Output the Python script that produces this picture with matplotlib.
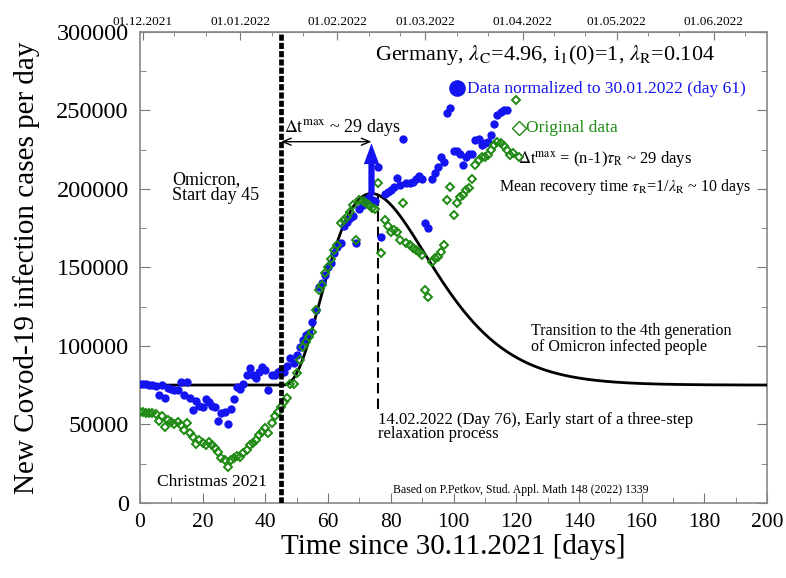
import numpy as np
import matplotlib
matplotlib.use("Agg")
from matplotlib import pyplot as plt
from matplotlib.ticker import MultipleLocator, FixedLocator

plt.rcParams['font.family'] = ['Liberation Serif', 'DejaVu Serif']
plt.rcParams['mathtext.fontset'] = 'stix'

# data normalized to 30.01.2022 (blue), in thousands of cases per day
blue_days = list(range(0, 118))
blue_k = [76, 76, 75.5, 75, 75, 74.5, 69, 75, 67, 73,
          72.5, 72, 72, 77, 69, 77, 67, 59, 65, 62,
          61, 66, 64, 62, 61, 52, 57, 58, 50, 60,
          66, 74, 72.6, 76, 81.5, 86, 81.5, 79.6, 83.4, 86.6,
          84.7, 72, 81.5, 81.5, 83.4, 84.7, 83.4, 87, 92, 89,
          94, 99, 104, 107, 108, 115, 123, 137.6, 140, 145,
          150, 153, 159, 163, 165.6, 176, 179, 181.5, 183, 165.6,
          187, 190, 193, 195, 193, 192, 214, 169, 197, 198,
          199, 201, 207, 202.5, 232, 204, 204, 204.5, 206, 208,
          206, 178, 175, 206, 210, 214, 220, 217, 248, 251.6,
          224, 224, 222, 215, 220, 222, 222, 231, 232, 228,
          229, 230, 234, 241, 247, 249, 250, 250]

# original data (green), in thousands of cases per day
green_days = list(range(0, 122))
green_k = [58, 58, 57.5, 57, 57, 56.5, 52, 55, 48, 53,
           51.6, 50, 51.6, 49.7, 46.5, 51, 44.6, 42, 37.6, 40,
           38, 37, 39, 37, 35, 32.5, 28.7, 27.4, 23, 27.4,
           28.7, 30, 29.3, 31.8, 33.8, 37, 38, 40, 43, 45,
           47.8, 44.6, 51, 55, 58, 61, 64, 67, 76, 76,
           83, 91, 99, 102.5, 105.7, 109, 123, 135.6, 139, 146.5,
           150, 155, 161, 164, 178, 180, 182, 185, 190, 167.5,
           193, 192, 191, 190, 188, 187, 204, 159, 180, 176,
           172.6, 174, 172.6, 167.5, 191, 165.6, 164, 162, 161, 160,
           158, 135.6, 131, 153.5, 156, 156.7, 160, 164, 193, 201,
           183.4, 191, 195, 196, 199, 200.6, 206, 215, 218.5, 220,
           220.4, 221.7, 225, 228, 230, 229, 227, 225, 221.7, 223,
           256.7, 220.4]

# model parameters (from the chart text)
start_day = 45
lambda_R = 0.104
n_gen = 4
base_level = 75000
peak_level = 197000

month_days = [1, 32, 63, 91, 122, 152, 183]
month_labels = ['01.12.2021', '01.01.2022', '01.02.2022', '01.03.2022',
                '01.04.2022', '01.05.2022', '01.06.2022']

# model curve: Erlang-type wave of the n-th generation on top of a base level
t = np.linspace(0, 200, 1601)
tau = np.clip(t - start_day, 0, None)
tau_peak = (n_gen - 1) / lambda_R
model = base_level + (peak_level - base_level) * (tau / tau_peak) ** (n_gen - 1) \
    * np.exp(-lambda_R * (tau - tau_peak))

fig = plt.figure(figsize=(7.86, 5.78), dpi=100)
ax = fig.add_axes([0.178, 0.130, 0.798, 0.815])

ax.plot(t, model, color='black', lw=2.0, zorder=3)
ax.plot(blue_days, np.array(blue_k) * 1000, 'o', color='#1414f0', ms=6,
        mec='none', zorder=4)
ax.plot(green_days, np.array(green_k) * 1000, 'D', color='#1f8a14', ms=3.6,
        mfc='none', mew=1.4, zorder=4)

# Omicron start and early relaxation markers
ax.axvline(start_day, color='black', lw=3.4, dashes=(1.3, 0.45), zorder=5)
ax.plot([76, 76], [60000, 198000], color='black', lw=1.5, dashes=(5, 2.5), zorder=2)

ax.annotate('', xy=(start_day + tau_peak, 230000), xytext=(start_day, 230000),
            arrowprops=dict(arrowstyle='<->,head_length=0.6,head_width=0.25',
                            lw=1.0, color='black', shrinkA=0, shrinkB=0))
ax.annotate('', xy=(start_day + tau_peak, 229000), xytext=(start_day + tau_peak, 196000),
            arrowprops=dict(arrowstyle='simple,head_width=1.1,head_length=1.5,tail_width=0.45',
                            mutation_scale=10, color='#1414f0', lw=0,
                            shrinkA=0, shrinkB=0), zorder=6)

ax.set_xlim(0, 200)
ax.set_ylim(0, 300000)
ax.xaxis.set_major_locator(MultipleLocator(20))
ax.xaxis.set_minor_locator(MultipleLocator(10))
ax.yaxis.set_major_locator(MultipleLocator(50000))
ax.yaxis.set_minor_locator(MultipleLocator(25000))
ax.tick_params(which='both', direction='in', right=True, color='#777777')
ax.tick_params(which='major', length=7)
ax.tick_params(which='minor', length=4)
ax.tick_params(axis='y', labelsize=17.5, pad=8)
ax.tick_params(axis='x', labelsize=15.5, pad=7)
for s in ax.spines.values():
    s.set_color('#888888')
    s.set_linewidth(1.2)

ax.set_xlabel('Time since 30.11.2021 [days]', fontsize=21, labelpad=2)
ax.set_ylabel('New Covod-19 infection cases per day', fontsize=21, labelpad=12)

top = ax.secondary_xaxis('top')
top.xaxis.set_major_locator(FixedLocator(month_days))
top.set_xticklabels(month_labels)
top.xaxis.set_minor_locator(FixedLocator([d + k for d in month_days for k in (10, 20)]))
top.tick_params(which='both', direction='in', color='#777777', labelsize=9.5, pad=3)
top.tick_params(which='major', length=6)
top.tick_params(which='minor', length=3)
top.spines['top'].set_color('#888888')

# texts
ax.text(75, 285000, r'Germany, $\lambda_{\mathrm{C}}$=4.96, i$_1$(0)=1, $\lambda_{\mathrm{R}}$=0.104',
        fontsize=16, va='center', ha='left')
ax.plot([101], [264000], 'o', color='#1414f0', ms=12, mec='none', clip_on=False)
ax.text(104.3, 263500, 'Data normalized to 30.01.2022 (day 61)', color='#1414f0',
        fontsize=12.5, va='center', ha='left')
ax.plot([121], [239000], 'D', color='#1f8a14', ms=7, mfc='none', mew=1.0)
ax.text(123, 238500, 'Original data', color='#1f8a14', fontsize=12.5,
        va='center', ha='left')
ax.text(120.6, 218500, r'$\Delta$t$^{\mathrm{max}}$ = (n-1)$\tau_{\mathrm{R}}$ ~ 29 days',
        fontsize=12, va='center', ha='left')
ax.text(114.6, 201000, r'Mean recovery time $\tau_{\mathrm{R}}$=1/$\lambda_{\mathrm{R}}$ ~ 10 days',
        fontsize=11.5, va='center', ha='left')
ax.text(10.2, 201000, 'Omicron,\nStart day 45', fontsize=13, va='center', ha='left',
        linespacing=0.9)
ax.text(46, 239000, r'$\Delta$t$^{\mathrm{max}}$ ~ 29 days', fontsize=13,
        va='center', ha='left')
ax.text(124.7, 104500, 'Transition to the 4th generation\nof Omicron infected people',
        fontsize=11.5, va='center', ha='left', linespacing=1.0)
ax.text(76, 48500, '14.02.2022 (Day 76), Early start of a three-step\nrelaxation process',
        fontsize=12, va='center', ha='left', linespacing=0.85)
ax.text(5.4, 13000, 'Christmas 2021', fontsize=12.5, va='center', ha='left')
ax.text(80.7, 8300, 'Based on P.Petkov, Stud. Appl. Math 148 (2022) 1339',
        fontsize=8.5, va='center', ha='left')

plt.savefig('out.png', dpi=100)
